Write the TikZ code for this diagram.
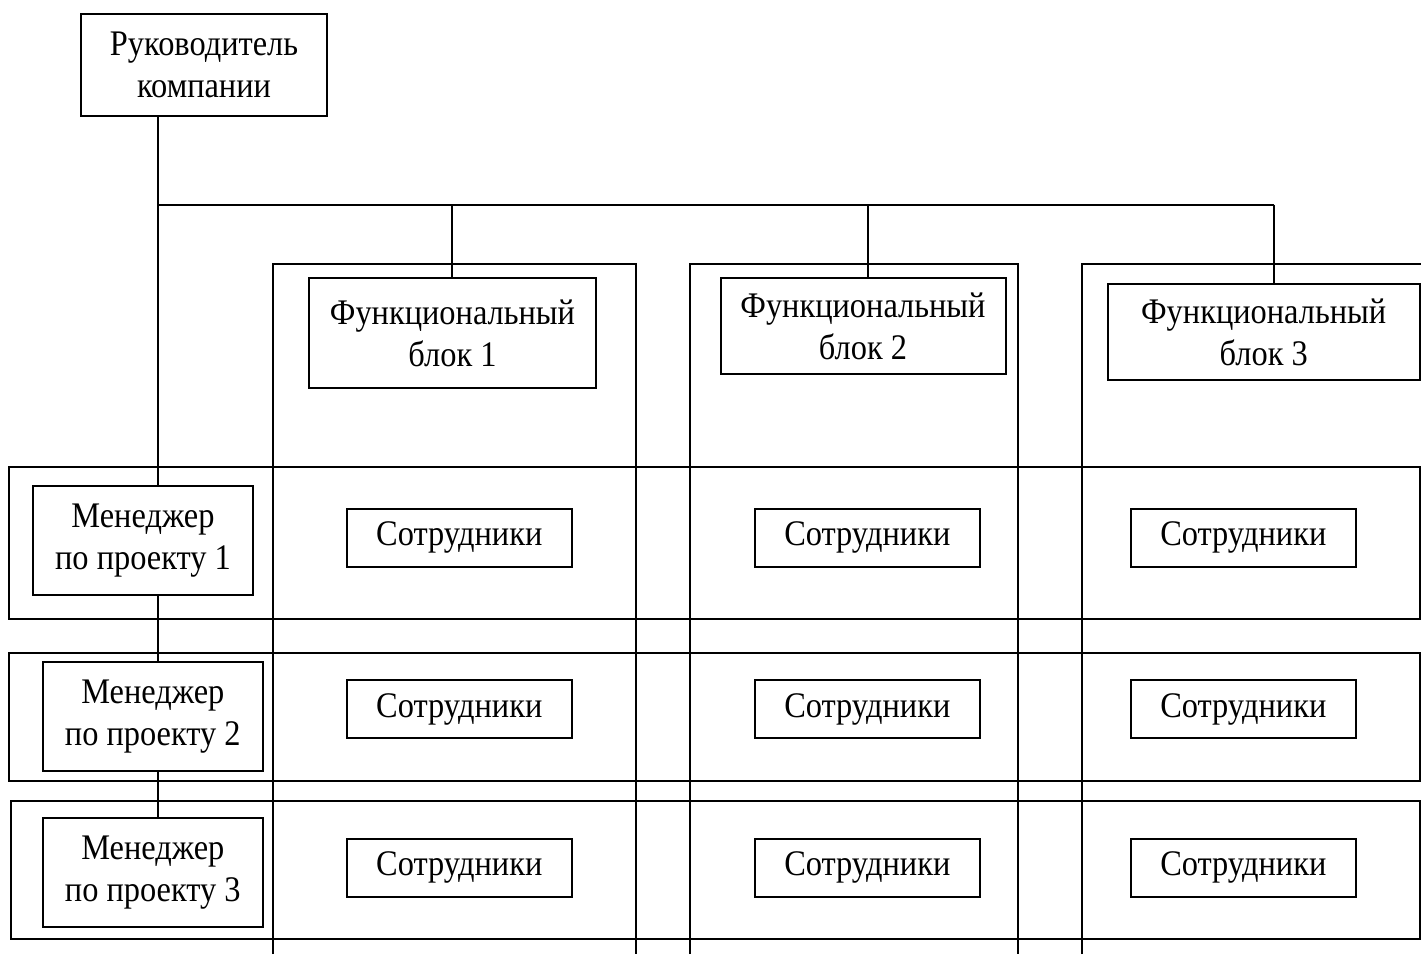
\documentclass[tikz,border=0pt]{standalone}
\usepackage{fontspec}
\setmainfont{Liberation Serif}[FakeStretch=0.9]
\begin{document}
\begin{tikzpicture}[x=1pt,y=-1pt,
  lw/.style={line width=2pt},
  box/.style={draw,lw,align=center,inner sep=0pt,font=\fontsize{36}{42}\selectfont},
  frame/.style={draw,lw}]
\useasboundingbox (0,0) rectangle (1421,954);
\clip (0,0) rectangle (1421,954);
% column frames (open at bottom)
\draw[frame] (273,954) -- (273,264) -- (635.5,264) -- (635.5,954);
\draw[frame] (689.5,954) -- (689.5,264) -- (1017.5,264) -- (1017.5,954);
\draw[frame] (1081.5,954) -- (1081.5,264) -- (1430,264);
% row frames
\draw[frame] (8.5,466.5) rectangle (1419.5,618.5);
\draw[frame] (8.5,652.5) rectangle (1419.5,781);
\draw[frame] (10.5,800.5) rectangle (1419.5,939);
% nodes
\node[box,minimum width=246pt,minimum height=102pt] (top) at (204,65) {Руководитель\\компании};
\node[box,minimum width=286.5pt,minimum height=110pt] (f1) at (452.5,333) {Функциональный\\блок 1};
\node[box,minimum width=285pt,minimum height=96pt] (f2) at (863,326.3) {Функциональный\\блок 2};
\node[box,minimum width=312pt,minimum height=96pt] (f3) at (1263.7,332.3) {Функциональный\\блок 3};
\node[box,minimum width=220pt,minimum height=108.5pt] (m1) at (143,540.5) {Менеджер\\по проекту 1};
\node[box,minimum width=220.5pt,minimum height=108.5pt] (m2) at (152.8,716.5) {Менеджер\\по проекту 2};
\node[box,minimum width=220.5pt,minimum height=108.5pt] (m3) at (152.8,872.5) {Менеджер\\по проекту 3};
\foreach \r/\y in {1/537.7,2/709.2,3/867.5}{
  \node[box,minimum width=224.5pt,minimum height=58pt] (s1\r) at (459.3,\y) {Сотрудники};
  \node[box,minimum width=224.5pt,minimum height=58pt] (s2\r) at (867.3,\y) {Сотрудники};
  \node[box,minimum width=224.5pt,minimum height=58pt] (s3\r) at (1243.3,\y) {Сотрудники};
}
% connectors
\coordinate (bus) at (157.5,204.5);
\coordinate (d1) at (451.5,204.5);
\coordinate (d2) at (867.5,204.5);
\coordinate (d3) at (1273.5,204.5);
\draw[lw] (bus |- top.south) -- (bus |- m1.north);
\draw[lw] (bus) -- (d3);
\draw[lw] (d1) -- (d1 |- f1.north);
\draw[lw] (d2) -- (d2 |- f2.north);
\draw[lw] (d3) -- (d3 |- f3.north);
\draw[lw] (bus |- m1.south) -- (bus |- m2.north);
\draw[lw] (bus |- m2.south) -- (bus |- m3.north);
\end{tikzpicture}
\end{document}
